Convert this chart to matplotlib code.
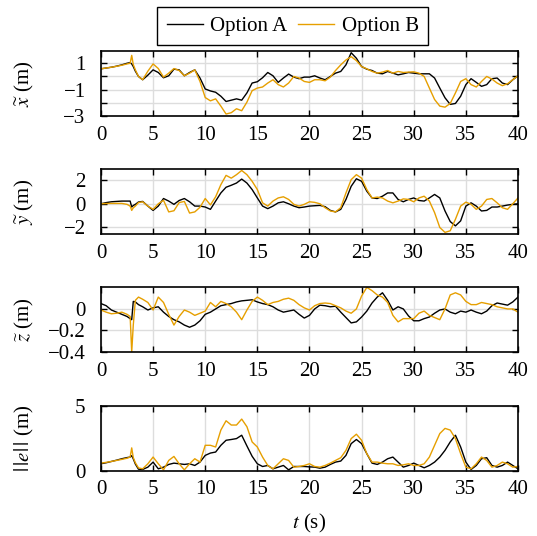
import matplotlib
matplotlib.use("Agg")
import matplotlib.pyplot as plt
import numpy as np

plt.rcParams['font.family'] = ['Liberation Serif', 'DejaVu Serif']
plt.rcParams['mathtext.fontset'] = 'stix'
plt.rcParams['font.size'] = 15

# time stamps (s)
t = [0, 0.5, 1, 1.5, 2, 2.5, 2.8, 2.95, 3.1, 3.3, 3.6,
     4, 4.5, 5, 5.5, 6, 6.5, 7, 7.5, 8, 8.5, 9, 9.5,
     10, 10.5, 11, 11.5, 12, 12.5, 13, 13.5, 14, 14.5, 15, 15.5,
     16, 16.5, 17, 17.5, 18, 18.5, 19, 19.5, 20, 20.5, 21, 21.5,
     22, 22.5, 23, 23.5, 24, 24.5, 25, 25.5, 26, 26.5, 27, 27.5,
     28, 28.5, 29, 29.5, 30, 30.5, 31, 31.5, 32, 32.5, 33, 33.5,
     34, 34.5, 35, 35.5, 36, 36.5, 37, 37.5, 38, 38.5, 39, 39.5, 40]

# x error
x_a = [0.58, 0.64, 0.7, 0.78, 0.88, 1.0, 1.05, 0.95, 0.75, 0.4, 0.0,
       -0.25, 0.1, 0.5, 0.3, -0.1, 0.05, 0.55, 0.5, 0.05, 0.3, 0.5, -0.12,
       -0.95, -1.1, -1.2, -1.5, -1.9, -1.8, -1.7, -1.8, -1.25, -0.5, -0.4, -0.1,
       0.3, 0.05, -0.45, -0.12, 0.18, -0.05, -0.17, -0.05, -0.05, 0.05, -0.12, -0.25,
       0.0, 0.25, 0.38, 0.88, 1.8, 1.38, 0.75, 0.55, 0.45, 0.25, 0.2, 0.38,
       0.25, 0.12, 0.2, 0.3, 0.25, 0.2, 0.2, 0.2, -0.12, -0.88, -1.62, -2.12,
       -2.05, -1.5, -0.62, -0.17, -0.45, -0.75, -0.62, -0.17, -0.12, -0.5, -0.62, -0.25, 0.05]
x_b = [0.58, 0.64, 0.7, 0.77, 0.85, 0.95, 1.0, 1.6, 0.9, 0.5, 0.0,
       -0.25, 0.4, 0.95, 0.6, -0.05, 0.25, 0.6, 0.45, 0.05, 0.25, 0.5, -0.38,
       -1.6, -1.85, -1.7, -2.25, -2.85, -2.75, -2.45, -2.6, -1.95, -1.08, -0.88, -0.8,
       -0.5, -0.25, -0.62, -0.8, -0.5, 0.0, -0.12, -0.38, -0.45, -0.25, -0.25, -0.33,
       -0.05, 0.45, 0.88, 1.25, 1.5, 1.2, 0.75, 0.58, 0.38, 0.25, 0.33, 0.45,
       0.25, 0.38, 0.3, 0.33, 0.35, 0.25, 0.0, -0.88, -1.75, -2.25, -2.33, -2.05,
       -1.25, -0.38, -0.17, -0.62, -0.8, -0.38, 0.0, -0.2, -0.5, -0.7, -0.55, -0.25, 0.05]

# y error
y_a = [0.0, 0.1, 0.17, 0.2, 0.23, 0.23, 0.23, -0.28, -0.15, -0.05, 0.15,
       0.2, -0.2, -0.57, -0.2, 0.45, 0.23, -0.05, 0.28, 0.45, 0.17, -0.2, -0.2,
       -0.28, -0.48, 0.23, 0.93, 1.42, 1.59, 1.78, 2.12, 1.78, 1.22, 0.5, -0.2,
       -0.42, -0.2, 0.08, 0.17, 0.0, -0.2, -0.34, -0.28, -0.2, -0.17, -0.14, -0.25,
       -0.57, -0.7, -0.48, 0.37, 1.5, 2.15, 1.93, 1.08, 0.5, 0.45, 0.65, 0.93,
       0.93, 0.37, 0.17, 0.37, 0.5, 0.28, 0.23, 0.5, 0.8, 0.5, -0.62, -1.53,
       -1.9, -1.47, -0.2, 0.08, -0.2, -0.62, -0.57, -0.28, -0.28, -0.2, -0.11, -0.05, 0.0]
y_b = [0.0, 0.02, 0.03, 0.03, 0.03, -0.05, -0.2, -0.57, -0.35, -0.2, 0.1,
       0.17, -0.2, -0.48, 0.0, 0.3, -0.7, -0.6, 0.1, 0.2, -0.8, -0.7, -0.3,
       0.45, -0.1, 0.6, 1.64, 2.44, 2.2, 2.5, 2.86, 2.5, 1.93, 1.22, 0.08,
       -0.2, 0.23, 0.5, 0.6, 0.37, -0.05, -0.2, -0.05, 0.17, 0.12, 0.0, -0.34,
       -0.62, -0.7, -0.34, 0.93, 2.07, 2.5, 2.2, 1.22, 0.5, 0.57, 0.5, 0.23,
       0.08, 0.23, 0.42, 0.37, 0.17, 0.5, 0.65, 0.23, -0.76, -2.04, -2.46, -2.32,
       -1.33, -0.2, 0.14, -0.05, -0.48, -0.2, 0.37, 0.45, 0.08, -0.34, -0.48, 0.0, 0.5]

# z error
z_a = [0.05, 0.03, -0.01, -0.03, -0.05, -0.07, -0.09, -0.1, 0.07, 0.065, 0.04,
       0.02, -0.01, 0.01, 0.02, -0.03, -0.07, -0.1, -0.12, -0.15, -0.17, -0.15, -0.11,
       -0.05, -0.03, 0.0, 0.03, 0.04, 0.05, 0.065, 0.075, 0.08, 0.085, 0.065, 0.05,
       0.04, 0.02, -0.01, -0.03, -0.02, -0.01, -0.05, -0.085, -0.06, 0.0, 0.035, 0.03,
       0.02, 0.025, -0.03, -0.08, -0.13, -0.12, -0.075, -0.02, 0.055, 0.11, 0.15, 0.08,
       -0.01, 0.02, 0.0, -0.065, -0.11, -0.11, -0.09, -0.075, -0.04, -0.01, 0.0, -0.03,
       -0.045, -0.02, -0.03, -0.01, -0.03, -0.045, -0.02, 0.03, 0.055, 0.045, 0.035, 0.065, 0.11]
z_b = [-0.01, -0.03, -0.045, -0.04, -0.03, -0.05, -0.07, -0.4, -0.15, 0.08, 0.11,
       0.09, 0.06, -0.01, 0.11, 0.06, -0.05, -0.15, -0.07, -0.01, -0.03, -0.06, -0.04,
       -0.02, 0.06, 0.02, 0.07, 0.05, 0.02, -0.03, -0.1, -0.01, 0.07, 0.11, 0.08,
       0.04, 0.06, 0.07, 0.09, 0.1, 0.08, 0.04, 0.01, -0.01, 0.03, 0.05, 0.055,
       0.05, 0.03, 0.01, -0.02, -0.04, 0.0, 0.12, 0.2, 0.17, 0.13, 0.11, 0.06,
       -0.06, -0.12, -0.09, -0.09, -0.09, -0.04, -0.02, -0.06, -0.08, -0.1, 0.0, 0.13,
       0.15, 0.13, 0.07, 0.04, 0.04, 0.06, 0.05, 0.04, 0.02, 0.01, 0.0, 0.0, -0.03]

# error norm
e_a = [0.52, 0.6, 0.7, 0.8, 0.91, 1.0, 1.04, 1.15, 0.9, 0.5, 0.1,
       0.08, 0.26, 0.65, 0.13, 0.26, 0.47, 0.57, 0.52, 0.47, 0.52, 0.39, 0.65,
       1.17, 1.35, 1.43, 1.95, 2.34, 2.4, 2.47, 2.73, 1.9, 1.1, 0.52, 0.31,
       0.39, 0.13, 0.26, 0.39, 0.05, 0.31, 0.31, 0.31, 0.28, 0.26, 0.18, 0.26,
       0.47, 0.65, 0.73, 1.17, 2.08, 2.4, 2.08, 1.3, 0.57, 0.47, 0.65, 0.91,
       1.04, 0.65, 0.26, 0.39, 0.57, 0.39, 0.21, 0.39, 0.65, 1.04, 1.56, 2.21,
       2.73, 1.82, 0.65, 0.08, 0.39, 0.91, 0.99, 0.39, 0.26, 0.39, 0.65, 0.39, 0.13]
e_b = [0.57, 0.63, 0.7, 0.78, 0.86, 0.95, 1.04, 1.75, 1.0, 0.6, 0.2,
       0.13, 0.52, 1.04, 0.52, 0.05, 0.78, 1.09, 0.52, 0.05, 0.52, 0.91, 0.65,
       1.95, 1.95, 1.82, 3.13, 3.85, 3.52, 3.52, 3.98, 3.39, 2.21, 1.82, 1.04,
       0.39, 0.13, 0.52, 0.91, 0.78, 0.26, 0.31, 0.39, 0.52, 0.31, 0.26, 0.39,
       0.57, 0.78, 0.99, 1.56, 2.47, 2.81, 2.34, 1.3, 0.65, 0.65, 0.57, 0.52,
       0.52, 0.39, 0.44, 0.52, 0.39, 0.39, 0.52, 1.04, 1.95, 2.86, 3.26, 3.13,
       2.47, 1.3, 0.26, 0.13, 0.52, 1.04, 0.78, 0.26, 0.39, 0.65, 0.52, 0.26, 0.31]

c_a = 'black'
c_b = '#E69F00'

fig = plt.figure(figsize=(5.37, 5.36), dpi=100)
left, width, height = 0.188, 0.7766, 0.1205
bottoms = [0.7836, 0.5634, 0.3433, 0.1222]

panels = [
    (x_a, x_b, r'$\widetilde{x}$ (m)', (-3, 1.9), [-3, -2, -1, 0, 1], ['\u22123', '', '\u22121', '', '1']),
    (y_a, y_b, r'$\widetilde{y}$ (m)', (-2.6, 2.95), [-2, 0, 2], ['\u22122', '0', '2']),
    (z_a, z_b, r'$\widetilde{z}$ (m)', (-0.4, 0.2), [-0.4, -0.2, 0], ['\u22120.4', '\u22120.2', '0']),
    (e_a, e_b, r'$|\,|e|\,|$ (m)', (0, 5), [0, 5], ['0', '5']),
]

axes = []
for (ya_, yb_, lab, lim, ticks, tlabels), b in zip(panels, bottoms):
    ax = fig.add_axes([left, b, width, height])
    la, = ax.plot(t, ya_, color=c_a, lw=1.0, label='Option A')
    lb, = ax.plot(t, yb_, color=c_b, lw=1.0, label='Option B')
    ax.set_xlim(0, 40)
    ax.set_ylim(*lim)
    ax.set_xticks(np.arange(0, 41, 5))
    ax.set_yticks(ticks)
    ax.set_yticklabels(tlabels)
    ax.grid(True, color='#dddddd', lw=1.0)
    ax.set_axisbelow(True)
    ax.tick_params(direction='in', top=True, right=True, length=4, width=1, labelsize=15)
    ax.tick_params(axis='x', pad=7)
    ax.tick_params(axis='y', pad=11)
    for s in ax.spines.values():
        s.set_linewidth(1.2)
    ax.set_ylabel(lab, fontsize=15)
    ax.yaxis.set_label_coords(-0.155, 0.5)
    axes.append(ax)

axes[-1].set_xlabel(r'$t$ (s)', fontsize=15, labelpad=9)

fig.legend(handles=[la, lb], loc='center', bbox_to_anchor=(0.545, 0.951), ncol=2,
           fontsize=15, frameon=True, fancybox=False, edgecolor='black',
           handlelength=1.75, handletextpad=0.35, columnspacing=0.5,
           borderpad=0.45, framealpha=1)

fig.savefig('out.png', dpi=100)
